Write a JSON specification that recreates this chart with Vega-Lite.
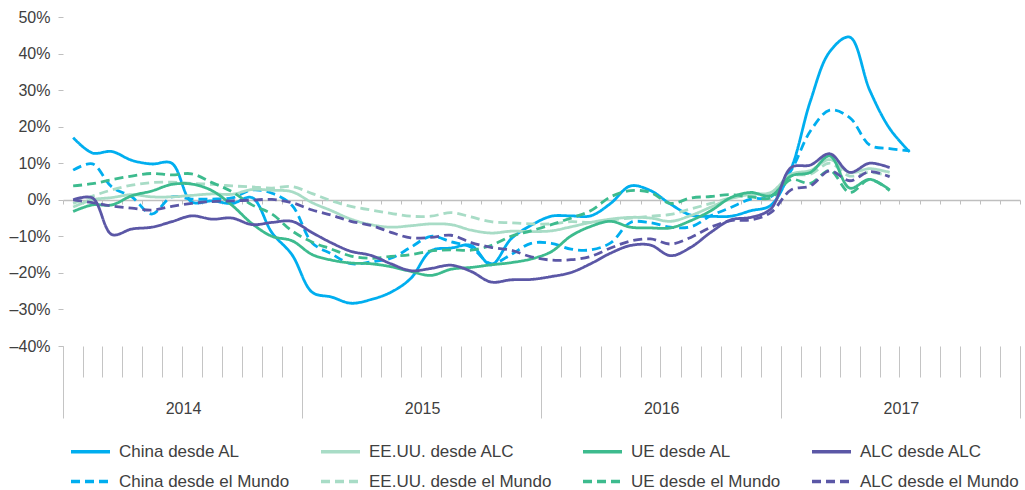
{
  "$schema": "https://vega.github.io/schema/vega-lite/v6.json",
  "width": 957,
  "height": 329,
  "autosize": "none",
  "padding": {"left": 63, "top": 17, "right": 5, "bottom": 144},
  "background": "white",
  "config": {
    "view": {"stroke": null},
    "font": "Liberation Sans",
    "legend": {
      "orient": "bottom",
      "direction": "horizontal",
      "columns": 4,
      "title": null,
      "symbolType": "stroke",
      "symbolSize": 1521,
      "symbolStrokeWidth": 3.5,
      "labelFontSize": 17,
      "labelColor": "#404040",
      "labelFont": "Liberation Sans",
      "labelLimit": 400,
      "columnPadding": 24,
      "rowPadding": -2,
      "labelOffset": 7,
      "offset": 5,
      "padding": 6
    }
  },
  "data": {"values": [
    {"s":"China desde AL","m":"2014-01","v":17.0},{"s":"China desde AL","m":"2014-02","v":12.8},{"s":"China desde AL","m":"2014-03","v":13.2},{"s":"China desde AL","m":"2014-04","v":10.8},{"s":"China desde AL","m":"2014-05","v":9.8},{"s":"China desde AL","m":"2014-06","v":10.0},{"s":"China desde AL","m":"2014-07","v":-0.6},{"s":"China desde AL","m":"2014-08","v":-0.3},{"s":"China desde AL","m":"2014-09","v":-1.0},{"s":"China desde AL","m":"2014-10","v":0.6},{"s":"China desde AL","m":"2014-11","v":-9.0},{"s":"China desde AL","m":"2014-12","v":-15.0},
    {"s":"China desde AL","m":"2015-01","v":-25.3},{"s":"China desde AL","m":"2015-02","v":-26.6},{"s":"China desde AL","m":"2015-03","v":-28.3},{"s":"China desde AL","m":"2015-04","v":-27.3},{"s":"China desde AL","m":"2015-05","v":-25.3},{"s":"China desde AL","m":"2015-06","v":-21.5},{"s":"China desde AL","m":"2015-07","v":-14.0},{"s":"China desde AL","m":"2015-08","v":-13.2},{"s":"China desde AL","m":"2015-09","v":-12.5},{"s":"China desde AL","m":"2015-10","v":-17.8},{"s":"China desde AL","m":"2015-11","v":-10.7},{"s":"China desde AL","m":"2015-12","v":-7.0},
    {"s":"China desde AL","m":"2016-01","v":-4.5},{"s":"China desde AL","m":"2016-02","v":-4.4},{"s":"China desde AL","m":"2016-03","v":-4.4},{"s":"China desde AL","m":"2016-04","v":-1.0},{"s":"China desde AL","m":"2016-05","v":3.8},{"s":"China desde AL","m":"2016-06","v":2.5},{"s":"China desde AL","m":"2016-07","v":-1.2},{"s":"China desde AL","m":"2016-08","v":-4.2},{"s":"China desde AL","m":"2016-09","v":-4.5},{"s":"China desde AL","m":"2016-10","v":-4.5},{"s":"China desde AL","m":"2016-11","v":-3.0},{"s":"China desde AL","m":"2016-12","v":-1.5},
    {"s":"China desde AL","m":"2017-01","v":8.5},{"s":"China desde AL","m":"2017-02","v":27.0},{"s":"China desde AL","m":"2017-03","v":40.5},{"s":"China desde AL","m":"2017-04","v":44.5},{"s":"China desde AL","m":"2017-05","v":30.0},{"s":"China desde AL","m":"2017-06","v":19.5},{"s":"China desde AL","m":"2017-07","v":13.1},

    {"s":"China desde el Mundo","m":"2014-01","v":8.1},{"s":"China desde el Mundo","m":"2014-02","v":9.8},{"s":"China desde el Mundo","m":"2014-03","v":3.5},{"s":"China desde el Mundo","m":"2014-04","v":0.8},{"s":"China desde el Mundo","m":"2014-05","v":-3.9},{"s":"China desde el Mundo","m":"2014-06","v":0.8},{"s":"China desde el Mundo","m":"2014-07","v":0.2},{"s":"China desde el Mundo","m":"2014-08","v":0.2},{"s":"China desde el Mundo","m":"2014-09","v":0.5},{"s":"China desde el Mundo","m":"2014-10","v":2.7},{"s":"China desde el Mundo","m":"2014-11","v":1.8},{"s":"China desde el Mundo","m":"2014-12","v":-1.5},
    {"s":"China desde el Mundo","m":"2015-01","v":-11.8},{"s":"China desde el Mundo","m":"2015-02","v":-14.8},{"s":"China desde el Mundo","m":"2015-03","v":-17.5},{"s":"China desde el Mundo","m":"2015-04","v":-17.0},{"s":"China desde el Mundo","m":"2015-05","v":-16.0},{"s":"China desde el Mundo","m":"2015-06","v":-13.0},{"s":"China desde el Mundo","m":"2015-07","v":-10.0},{"s":"China desde el Mundo","m":"2015-08","v":-11.5},{"s":"China desde el Mundo","m":"2015-09","v":-13.0},{"s":"China desde el Mundo","m":"2015-10","v":-17.5},{"s":"China desde el Mundo","m":"2015-11","v":-15.0},{"s":"China desde el Mundo","m":"2015-12","v":-11.9},
    {"s":"China desde el Mundo","m":"2016-01","v":-11.9},{"s":"China desde el Mundo","m":"2016-02","v":-13.5},{"s":"China desde el Mundo","m":"2016-03","v":-13.7},{"s":"China desde el Mundo","m":"2016-04","v":-11.8},{"s":"China desde el Mundo","m":"2016-05","v":-6.2},{"s":"China desde el Mundo","m":"2016-06","v":-6.3},{"s":"China desde el Mundo","m":"2016-07","v":-7.5},{"s":"China desde el Mundo","m":"2016-08","v":-7.4},{"s":"China desde el Mundo","m":"2016-09","v":-4.4},{"s":"China desde el Mundo","m":"2016-10","v":-2.1},{"s":"China desde el Mundo","m":"2016-11","v":0.2},{"s":"China desde el Mundo","m":"2016-12","v":0.8},
    {"s":"China desde el Mundo","m":"2017-01","v":8.0},{"s":"China desde el Mundo","m":"2017-02","v":18.8},{"s":"China desde el Mundo","m":"2017-03","v":24.5},{"s":"China desde el Mundo","m":"2017-04","v":22.5},{"s":"China desde el Mundo","m":"2017-05","v":15.0},{"s":"China desde el Mundo","m":"2017-06","v":14.0},{"s":"China desde el Mundo","m":"2017-07","v":13.4},

    {"s":"EE.UU. desde ALC","m":"2014-01","v":-2.0},{"s":"EE.UU. desde ALC","m":"2014-02","v":0.0},{"s":"EE.UU. desde ALC","m":"2014-03","v":0.6},{"s":"EE.UU. desde ALC","m":"2014-04","v":1.4},{"s":"EE.UU. desde ALC","m":"2014-05","v":0.8},{"s":"EE.UU. desde ALC","m":"2014-06","v":0.8},{"s":"EE.UU. desde ALC","m":"2014-07","v":1.2},{"s":"EE.UU. desde ALC","m":"2014-08","v":1.6},{"s":"EE.UU. desde ALC","m":"2014-09","v":1.5},{"s":"EE.UU. desde ALC","m":"2014-10","v":2.8},{"s":"EE.UU. desde ALC","m":"2014-11","v":2.6},{"s":"EE.UU. desde ALC","m":"2014-12","v":2.2},
    {"s":"EE.UU. desde ALC","m":"2015-01","v":-0.8},{"s":"EE.UU. desde ALC","m":"2015-02","v":-3.0},{"s":"EE.UU. desde ALC","m":"2015-03","v":-5.3},{"s":"EE.UU. desde ALC","m":"2015-04","v":-6.8},{"s":"EE.UU. desde ALC","m":"2015-05","v":-7.5},{"s":"EE.UU. desde ALC","m":"2015-06","v":-7.1},{"s":"EE.UU. desde ALC","m":"2015-07","v":-6.6},{"s":"EE.UU. desde ALC","m":"2015-08","v":-6.8},{"s":"EE.UU. desde ALC","m":"2015-09","v":-8.3},{"s":"EE.UU. desde ALC","m":"2015-10","v":-9.1},{"s":"EE.UU. desde ALC","m":"2015-11","v":-8.6},{"s":"EE.UU. desde ALC","m":"2015-12","v":-8.7},
    {"s":"EE.UU. desde ALC","m":"2016-01","v":-8.5},{"s":"EE.UU. desde ALC","m":"2016-02","v":-7.4},{"s":"EE.UU. desde ALC","m":"2016-03","v":-6.2},{"s":"EE.UU. desde ALC","m":"2016-04","v":-5.3},{"s":"EE.UU. desde ALC","m":"2016-05","v":-4.8},{"s":"EE.UU. desde ALC","m":"2016-06","v":-5.0},{"s":"EE.UU. desde ALC","m":"2016-07","v":-5.9},{"s":"EE.UU. desde ALC","m":"2016-08","v":-4.3},{"s":"EE.UU. desde ALC","m":"2016-09","v":-2.0},{"s":"EE.UU. desde ALC","m":"2016-10","v":0.3},{"s":"EE.UU. desde ALC","m":"2016-11","v":1.5},{"s":"EE.UU. desde ALC","m":"2016-12","v":2.0},
    {"s":"EE.UU. desde ALC","m":"2017-01","v":7.0},{"s":"EE.UU. desde ALC","m":"2017-02","v":8.0},{"s":"EE.UU. desde ALC","m":"2017-03","v":11.0},{"s":"EE.UU. desde ALC","m":"2017-04","v":7.5},{"s":"EE.UU. desde ALC","m":"2017-05","v":8.5},{"s":"EE.UU. desde ALC","m":"2017-06","v":7.5},

    {"s":"EE.UU. desde el Mundo","m":"2014-01","v":-1.0},{"s":"EE.UU. desde el Mundo","m":"2014-02","v":1.0},{"s":"EE.UU. desde el Mundo","m":"2014-03","v":2.7},{"s":"EE.UU. desde el Mundo","m":"2014-04","v":4.0},{"s":"EE.UU. desde el Mundo","m":"2014-05","v":4.7},{"s":"EE.UU. desde el Mundo","m":"2014-06","v":4.8},{"s":"EE.UU. desde el Mundo","m":"2014-07","v":4.5},{"s":"EE.UU. desde el Mundo","m":"2014-08","v":4.2},{"s":"EE.UU. desde el Mundo","m":"2014-09","v":3.8},{"s":"EE.UU. desde el Mundo","m":"2014-10","v":3.5},{"s":"EE.UU. desde el Mundo","m":"2014-11","v":3.2},{"s":"EE.UU. desde el Mundo","m":"2014-12","v":3.6},
    {"s":"EE.UU. desde el Mundo","m":"2015-01","v":1.7},{"s":"EE.UU. desde el Mundo","m":"2015-02","v":-0.3},{"s":"EE.UU. desde el Mundo","m":"2015-03","v":-1.8},{"s":"EE.UU. desde el Mundo","m":"2015-04","v":-2.8},{"s":"EE.UU. desde el Mundo","m":"2015-05","v":-3.7},{"s":"EE.UU. desde el Mundo","m":"2015-06","v":-4.5},{"s":"EE.UU. desde el Mundo","m":"2015-07","v":-4.5},{"s":"EE.UU. desde el Mundo","m":"2015-08","v":-3.5},{"s":"EE.UU. desde el Mundo","m":"2015-09","v":-4.7},{"s":"EE.UU. desde el Mundo","m":"2015-10","v":-6.0},{"s":"EE.UU. desde el Mundo","m":"2015-11","v":-6.3},{"s":"EE.UU. desde el Mundo","m":"2015-12","v":-6.6},
    {"s":"EE.UU. desde el Mundo","m":"2016-01","v":-6.6},{"s":"EE.UU. desde el Mundo","m":"2016-02","v":-6.0},{"s":"EE.UU. desde el Mundo","m":"2016-03","v":-6.2},{"s":"EE.UU. desde el Mundo","m":"2016-04","v":-5.5},{"s":"EE.UU. desde el Mundo","m":"2016-05","v":-5.0},{"s":"EE.UU. desde el Mundo","m":"2016-06","v":-4.5},{"s":"EE.UU. desde el Mundo","m":"2016-07","v":-4.0},{"s":"EE.UU. desde el Mundo","m":"2016-08","v":-2.5},{"s":"EE.UU. desde el Mundo","m":"2016-09","v":-1.0},{"s":"EE.UU. desde el Mundo","m":"2016-10","v":0.5},{"s":"EE.UU. desde el Mundo","m":"2016-11","v":1.2},{"s":"EE.UU. desde el Mundo","m":"2016-12","v":1.8},
    {"s":"EE.UU. desde el Mundo","m":"2017-01","v":6.5},{"s":"EE.UU. desde el Mundo","m":"2017-02","v":7.0},{"s":"EE.UU. desde el Mundo","m":"2017-03","v":10.0},{"s":"EE.UU. desde el Mundo","m":"2017-04","v":6.5},{"s":"EE.UU. desde el Mundo","m":"2017-05","v":7.5},{"s":"EE.UU. desde el Mundo","m":"2017-06","v":6.5},

    {"s":"UE desde AL","m":"2014-01","v":-3.2},{"s":"UE desde AL","m":"2014-02","v":-1.4},{"s":"UE desde AL","m":"2014-03","v":-1.4},{"s":"UE desde AL","m":"2014-04","v":1.1},{"s":"UE desde AL","m":"2014-05","v":2.4},{"s":"UE desde AL","m":"2014-06","v":4.2},{"s":"UE desde AL","m":"2014-07","v":4.3},{"s":"UE desde AL","m":"2014-08","v":2.5},{"s":"UE desde AL","m":"2014-09","v":-1.5},{"s":"UE desde AL","m":"2014-10","v":-6.5},{"s":"UE desde AL","m":"2014-11","v":-10.0},{"s":"UE desde AL","m":"2014-12","v":-11.2},
    {"s":"UE desde AL","m":"2015-01","v":-15.0},{"s":"UE desde AL","m":"2015-02","v":-16.5},{"s":"UE desde AL","m":"2015-03","v":-17.3},{"s":"UE desde AL","m":"2015-04","v":-17.5},{"s":"UE desde AL","m":"2015-05","v":-18.3},{"s":"UE desde AL","m":"2015-06","v":-19.6},{"s":"UE desde AL","m":"2015-07","v":-20.7},{"s":"UE desde AL","m":"2015-08","v":-19.0},{"s":"UE desde AL","m":"2015-09","v":-18.5},{"s":"UE desde AL","m":"2015-10","v":-17.8},{"s":"UE desde AL","m":"2015-11","v":-17.2},{"s":"UE desde AL","m":"2015-12","v":-16.2},
    {"s":"UE desde AL","m":"2016-01","v":-14.2},{"s":"UE desde AL","m":"2016-02","v":-9.9},{"s":"UE desde AL","m":"2016-03","v":-7.3},{"s":"UE desde AL","m":"2016-04","v":-5.9},{"s":"UE desde AL","m":"2016-05","v":-7.5},{"s":"UE desde AL","m":"2016-06","v":-7.7},{"s":"UE desde AL","m":"2016-07","v":-7.7},{"s":"UE desde AL","m":"2016-08","v":-5.7},{"s":"UE desde AL","m":"2016-09","v":-3.0},{"s":"UE desde AL","m":"2016-10","v":0.6},{"s":"UE desde AL","m":"2016-11","v":2.0},{"s":"UE desde AL","m":"2016-12","v":1.1},
    {"s":"UE desde AL","m":"2017-01","v":6.5},{"s":"UE desde AL","m":"2017-02","v":7.5},{"s":"UE desde AL","m":"2017-03","v":12.0},{"s":"UE desde AL","m":"2017-04","v":3.2},{"s":"UE desde AL","m":"2017-05","v":5.6},{"s":"UE desde AL","m":"2017-06","v":2.7},

    {"s":"UE desde el Mundo","m":"2014-01","v":3.8},{"s":"UE desde el Mundo","m":"2014-02","v":4.4},{"s":"UE desde el Mundo","m":"2014-03","v":5.5},{"s":"UE desde el Mundo","m":"2014-04","v":6.5},{"s":"UE desde el Mundo","m":"2014-05","v":7.2},{"s":"UE desde el Mundo","m":"2014-06","v":6.8},{"s":"UE desde el Mundo","m":"2014-07","v":7.1},{"s":"UE desde el Mundo","m":"2014-08","v":4.7},{"s":"UE desde el Mundo","m":"2014-09","v":2.2},{"s":"UE desde el Mundo","m":"2014-10","v":-1.4},{"s":"UE desde el Mundo","m":"2014-11","v":-3.9},{"s":"UE desde el Mundo","m":"2014-12","v":-8.5},
    {"s":"UE desde el Mundo","m":"2015-01","v":-11.6},{"s":"UE desde el Mundo","m":"2015-02","v":-13.5},{"s":"UE desde el Mundo","m":"2015-03","v":-15.4},{"s":"UE desde el Mundo","m":"2015-04","v":-16.0},{"s":"UE desde el Mundo","m":"2015-05","v":-15.5},{"s":"UE desde el Mundo","m":"2015-06","v":-15.0},{"s":"UE desde el Mundo","m":"2015-07","v":-14.0},{"s":"UE desde el Mundo","m":"2015-08","v":-13.7},{"s":"UE desde el Mundo","m":"2015-09","v":-13.8},{"s":"UE desde el Mundo","m":"2015-10","v":-12.5},{"s":"UE desde el Mundo","m":"2015-11","v":-10.0},{"s":"UE desde el Mundo","m":"2015-12","v":-8.5},
    {"s":"UE desde el Mundo","m":"2016-01","v":-6.8},{"s":"UE desde el Mundo","m":"2016-02","v":-5.0},{"s":"UE desde el Mundo","m":"2016-03","v":-3.0},{"s":"UE desde el Mundo","m":"2016-04","v":0.8},{"s":"UE desde el Mundo","m":"2016-05","v":2.5},{"s":"UE desde el Mundo","m":"2016-06","v":2.0},{"s":"UE desde el Mundo","m":"2016-07","v":-1.0},{"s":"UE desde el Mundo","m":"2016-08","v":0.5},{"s":"UE desde el Mundo","m":"2016-09","v":0.9},{"s":"UE desde el Mundo","m":"2016-10","v":1.4},{"s":"UE desde el Mundo","m":"2016-11","v":0.8},{"s":"UE desde el Mundo","m":"2016-12","v":0.5},
    {"s":"UE desde el Mundo","m":"2017-01","v":5.5},{"s":"UE desde el Mundo","m":"2017-02","v":4.5},{"s":"UE desde el Mundo","m":"2017-03","v":8.0},{"s":"UE desde el Mundo","m":"2017-04","v":2.0},{"s":"UE desde el Mundo","m":"2017-05","v":5.5},{"s":"UE desde el Mundo","m":"2017-06","v":2.5},

    {"s":"ALC desde ALC","m":"2014-01","v":0.0},{"s":"ALC desde ALC","m":"2014-02","v":0.5},{"s":"ALC desde ALC","m":"2014-03","v":-9.5},{"s":"ALC desde ALC","m":"2014-04","v":-8.0},{"s":"ALC desde ALC","m":"2014-05","v":-7.5},{"s":"ALC desde ALC","m":"2014-06","v":-6.0},{"s":"ALC desde ALC","m":"2014-07","v":-4.4},{"s":"ALC desde ALC","m":"2014-08","v":-5.3},{"s":"ALC desde ALC","m":"2014-09","v":-5.0},{"s":"ALC desde ALC","m":"2014-10","v":-6.8},{"s":"ALC desde ALC","m":"2014-11","v":-6.2},{"s":"ALC desde ALC","m":"2014-12","v":-5.9},
    {"s":"ALC desde ALC","m":"2015-01","v":-9.0},{"s":"ALC desde ALC","m":"2015-02","v":-11.8},{"s":"ALC desde ALC","m":"2015-03","v":-14.1},{"s":"ALC desde ALC","m":"2015-04","v":-15.2},{"s":"ALC desde ALC","m":"2015-05","v":-17.5},{"s":"ALC desde ALC","m":"2015-06","v":-19.4},{"s":"ALC desde ALC","m":"2015-07","v":-18.8},{"s":"ALC desde ALC","m":"2015-08","v":-17.9},{"s":"ALC desde ALC","m":"2015-09","v":-19.6},{"s":"ALC desde ALC","m":"2015-10","v":-22.5},{"s":"ALC desde ALC","m":"2015-11","v":-21.9},{"s":"ALC desde ALC","m":"2015-12","v":-21.8},
    {"s":"ALC desde ALC","m":"2016-01","v":-21.0},{"s":"ALC desde ALC","m":"2016-02","v":-19.9},{"s":"ALC desde ALC","m":"2016-03","v":-17.5},{"s":"ALC desde ALC","m":"2016-04","v":-14.6},{"s":"ALC desde ALC","m":"2016-05","v":-12.5},{"s":"ALC desde ALC","m":"2016-06","v":-12.4},{"s":"ALC desde ALC","m":"2016-07","v":-15.3},{"s":"ALC desde ALC","m":"2016-08","v":-13.0},{"s":"ALC desde ALC","m":"2016-09","v":-8.9},{"s":"ALC desde ALC","m":"2016-10","v":-5.5},{"s":"ALC desde ALC","m":"2016-11","v":-4.8},{"s":"ALC desde ALC","m":"2016-12","v":-2.5},
    {"s":"ALC desde ALC","m":"2017-01","v":8.8},{"s":"ALC desde ALC","m":"2017-02","v":9.5},{"s":"ALC desde ALC","m":"2017-03","v":12.6},{"s":"ALC desde ALC","m":"2017-04","v":7.5},{"s":"ALC desde ALC","m":"2017-05","v":10.0},{"s":"ALC desde ALC","m":"2017-06","v":8.8},

    {"s":"ALC desde el Mundo","m":"2014-01","v":0.0},{"s":"ALC desde el Mundo","m":"2014-02","v":-0.8},{"s":"ALC desde el Mundo","m":"2014-03","v":-1.7},{"s":"ALC desde el Mundo","m":"2014-04","v":-2.3},{"s":"ALC desde el Mundo","m":"2014-05","v":-2.8},{"s":"ALC desde el Mundo","m":"2014-06","v":-1.8},{"s":"ALC desde el Mundo","m":"2014-07","v":-1.0},{"s":"ALC desde el Mundo","m":"2014-08","v":-0.5},{"s":"ALC desde el Mundo","m":"2014-09","v":-0.3},{"s":"ALC desde el Mundo","m":"2014-10","v":-0.1},{"s":"ALC desde el Mundo","m":"2014-11","v":0.1},{"s":"ALC desde el Mundo","m":"2014-12","v":-0.8},
    {"s":"ALC desde el Mundo","m":"2015-01","v":-2.8},{"s":"ALC desde el Mundo","m":"2015-02","v":-4.2},{"s":"ALC desde el Mundo","m":"2015-03","v":-5.9},{"s":"ALC desde el Mundo","m":"2015-04","v":-7.0},{"s":"ALC desde el Mundo","m":"2015-05","v":-8.9},{"s":"ALC desde el Mundo","m":"2015-06","v":-10.4},{"s":"ALC desde el Mundo","m":"2015-07","v":-10.3},{"s":"ALC desde el Mundo","m":"2015-08","v":-9.7},{"s":"ALC desde el Mundo","m":"2015-09","v":-11.7},{"s":"ALC desde el Mundo","m":"2015-10","v":-13.0},{"s":"ALC desde el Mundo","m":"2015-11","v":-13.8},{"s":"ALC desde el Mundo","m":"2015-12","v":-15.6},
    {"s":"ALC desde el Mundo","m":"2016-01","v":-16.5},{"s":"ALC desde el Mundo","m":"2016-02","v":-16.4},{"s":"ALC desde el Mundo","m":"2016-03","v":-15.5},{"s":"ALC desde el Mundo","m":"2016-04","v":-13.2},{"s":"ALC desde el Mundo","m":"2016-05","v":-11.3},{"s":"ALC desde el Mundo","m":"2016-06","v":-10.7},{"s":"ALC desde el Mundo","m":"2016-07","v":-12.1},{"s":"ALC desde el Mundo","m":"2016-08","v":-10.3},{"s":"ALC desde el Mundo","m":"2016-09","v":-7.5},{"s":"ALC desde el Mundo","m":"2016-10","v":-5.7},{"s":"ALC desde el Mundo","m":"2016-11","v":-5.5},{"s":"ALC desde el Mundo","m":"2016-12","v":-3.5},
    {"s":"ALC desde el Mundo","m":"2017-01","v":2.7},{"s":"ALC desde el Mundo","m":"2017-02","v":3.8},{"s":"ALC desde el Mundo","m":"2017-03","v":7.9},{"s":"ALC desde el Mundo","m":"2017-04","v":5.2},{"s":"ALC desde el Mundo","m":"2017-05","v":7.7},{"s":"ALC desde el Mundo","m":"2017-06","v":6.3}
  ]},
  "layer": [
    {
      "mark": {"type": "rule", "opacity": 0},
      "encoding": {
        "x": {
          "field": "m", "type": "temporal",
          "scale": {"type": "utc", "domain": [{"year": 2014, "month": 1, "date": 1, "utc": true}, {"year": 2018, "month": 1, "date": 1, "utc": true}]},
          "axis": {"orient": "bottom", "offset": -146, "title": null, "grid": false, "labels": false, "domain": true, "domainColor": "#bfbfbf", "domainWidth": 1.5, "ticks": true, "tickSize": 4, "tickColor": "#bfbfbf", "tickWidth": 1, "tickCount": {"interval": "month", "step": 1}}
        }
      }
    },
    {
      "mark": {"type": "rule", "opacity": 0},
      "encoding": {
        "x": {
          "field": "m", "type": "temporal",
          "scale": {"type": "utc", "domain": [{"year": 2014, "month": 1, "date": 1, "utc": true}, {"year": 2018, "month": 1, "date": 1, "utc": true}]},
          "axis": {"orient": "bottom", "offset": 0, "title": null, "grid": false, "labels": false, "domain": false, "ticks": true, "tickSize": 31, "tickColor": "#c4c4c4", "tickWidth": 1, "tickCount": {"interval": "month", "step": 1}}
        }
      }
    },
    {
      "mark": {"type": "rule", "opacity": 0},
      "encoding": {
        "x": {
          "field": "m", "type": "temporal",
          "scale": {"type": "utc", "domain": [{"year": 2014, "month": 1, "date": 1, "utc": true}, {"year": 2018, "month": 1, "date": 1, "utc": true}]},
          "axis": {
            "orient": "bottom", "offset": 0, "title": null, "grid": false, "domain": false,
            "ticks": true, "tickSize": 72, "tickColor": "#c4c4c4", "tickWidth": 1,
            "values": [{"year": 2014, "month": 1, "date": 1, "utc": true}, {"year": 2015, "month": 1, "date": 1, "utc": true}, {"year": 2016, "month": 1, "date": 1, "utc": true}, {"year": 2017, "month": 1, "date": 1, "utc": true}, {"year": 2018, "month": 1, "date": 1, "utc": true}],
            "labelExpr": "utcyear(datum.value) < 2018 ? '' + utcyear(datum.value) : ''",
            "labelOffset": 120, "labelPadding": -18, "labelFontSize": 16, "labelColor": "#404040", "labelFont": "Liberation Sans",
            "labelFlush": false, "labelOverlap": false, "labelBound": false
          }
        }
      }
    },
    {
      "mark": {"type": "line", "interpolate": "catmull-rom", "strokeWidth": 2.8},
      "encoding": {
        "x": {
          "field": "m", "type": "temporal", "timeUnit": "utcyearmonth", "bandPosition": 0.5,
          "scale": {"type": "utc", "domain": [{"year": 2014, "month": 1, "date": 1, "utc": true}, {"year": 2018, "month": 1, "date": 1, "utc": true}]},
          "axis": null
        },
        "y": {
          "field": "v", "type": "quantitative",
          "scale": {"domain": [-40, 50], "nice": false, "zero": false},
          "axis": {
            "values": [-40, -30, -20, -10, 0, 10, 20, 30, 40, 50],
            "labelExpr": "(datum.value < 0 ? '–' + abs(datum.value) : '' + datum.value) + '%'",
            "title": null, "domain": false, "grid": false, "ticks": true, "tickSize": 5, "tickColor": "#bfbfbf",
            "labelPadding": 8, "labelFontSize": 16, "labelColor": "#404040", "labelFont": "Liberation Sans"
          }
        },
        "color": {
          "field": "s", "type": "nominal",
          "scale": {
            "domain": ["China desde AL", "EE.UU. desde ALC", "UE desde AL", "ALC desde ALC", "China desde el Mundo", "EE.UU. desde el Mundo", "UE desde el Mundo", "ALC desde el Mundo"],
            "range": ["#00aeef", "#a8dcc6", "#3dbb8e", "#5b57a6", "#00aeef", "#a8dcc6", "#3dbb8e", "#5b57a6"]
          }
        },
        "strokeDash": {
          "field": "s", "type": "nominal",
          "scale": {
            "domain": ["China desde AL", "EE.UU. desde ALC", "UE desde AL", "ALC desde ALC", "China desde el Mundo", "EE.UU. desde el Mundo", "UE desde el Mundo", "ALC desde el Mundo"],
            "range": [[1, 0], [1, 0], [1, 0], [1, 0], [9, 5], [9, 5], [9, 5], [9, 5]]
          }
        }
      }
    }
  ],
  "resolve": {"axis": {"x": "independent"}}
}
